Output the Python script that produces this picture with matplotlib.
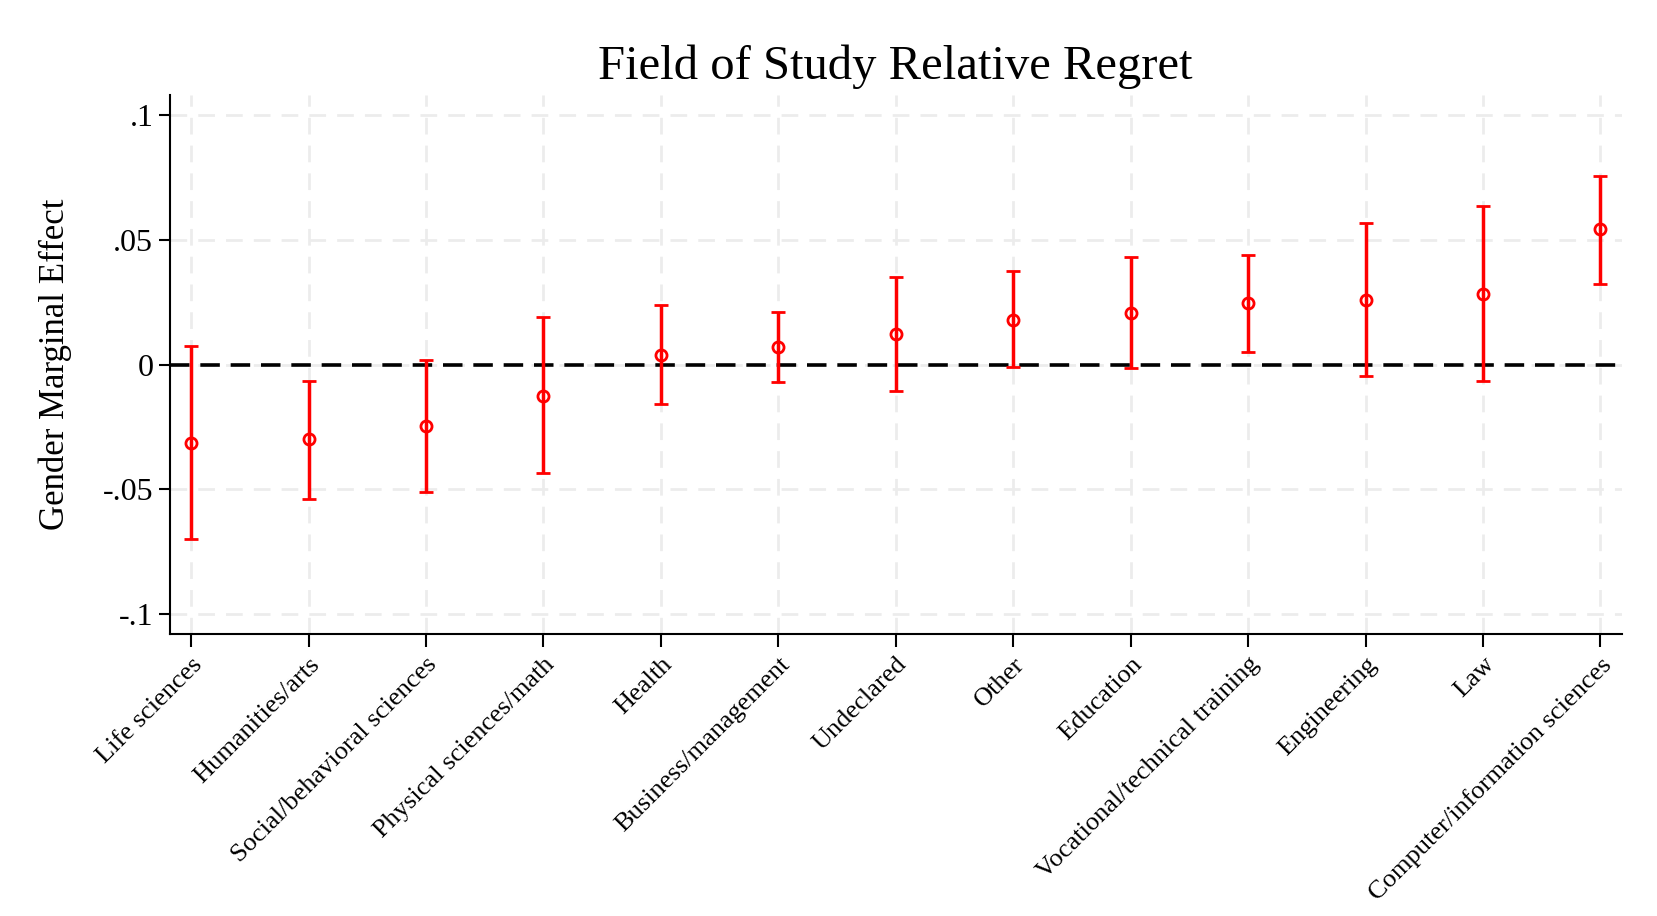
import matplotlib.pyplot as plt
import numpy as np

fields = [
    "Life sciences", "Humanities/arts", "Social/behavioral sciences",
    "Physical sciences/math", "Health", "Business/management", "Undeclared",
    "Other", "Education", "Vocational/technical training", "Engineering",
    "Law", "Computer/information sciences",
]
effect = [-0.0314, -0.0300, -0.0246, -0.0127, 0.0038, 0.0072, 0.0123,
          0.0180, 0.0208, 0.0246, 0.0258, 0.0284, 0.0542]
ci_low = [-0.0700, -0.0540, -0.0510, -0.0436, -0.0160, -0.0068, -0.0106,
          -0.0010, -0.0013, 0.0050, -0.0047, -0.0065, 0.0323]
ci_high = [0.0076, -0.0064, 0.0017, 0.0190, 0.0240, 0.0210, 0.0350,
           0.0377, 0.0432, 0.0440, 0.0568, 0.0634, 0.0758]

y_ticks = [-0.1, -0.05, 0, 0.05, 0.1]
y_tick_labels = ["-.1", "-.05", "0", ".05", ".1"]

plt.rcParams["font.family"] = ["Liberation Serif", "DejaVu Serif"]

fig = plt.figure(figsize=(16.58, 9.16), dpi=100)
ax = fig.add_axes([0.1025, 0.308, 0.8755, 0.588])

x = np.arange(len(fields))
eff = np.array(effect)
yerr = np.vstack([eff - np.array(ci_low), np.array(ci_high) - eff])

ax.errorbar(
    x, eff, yerr=yerr, fmt="o", color="red", ecolor="red",
    elinewidth=2.5, capsize=5, capthick=2.5,
    markersize=8, markerfacecolor="none", markeredgewidth=2, zorder=3,
)
ax.axhline(0, color="black", linestyle=(0, (5.4, 3.0)), linewidth=2.6, zorder=2)

ax.set_xlim(-0.18, len(fields) - 1 + 0.18)
ax.set_ylim(-0.108, 0.108)
ax.set_yticks(y_ticks)
ax.set_yticklabels(y_tick_labels, fontsize=23)
ax.set_xticks(x)
ax.set_xticklabels(fields, rotation=45, ha="right", rotation_mode="anchor",
                   fontsize=19)

ax.grid(True, color="#ececec", linestyle=(0, (6, 4)), linewidth=2, zorder=0)
ax.set_axisbelow(True)

for side in ["top", "right"]:
    ax.spines[side].set_visible(False)
for side in ["left", "bottom"]:
    ax.spines[side].set_linewidth(1.5)

ax.tick_params(axis="y", length=8, width=1.5, pad=4)
ax.tick_params(axis="x", length=9, width=1.5, pad=5)

ax.set_ylabel("Gender Marginal Effect", fontsize=25, labelpad=22)
ax.set_title("Field of Study Relative Regret", fontsize=35, pad=12)

fig.savefig("out.png", dpi=100)
plt.close(fig)
